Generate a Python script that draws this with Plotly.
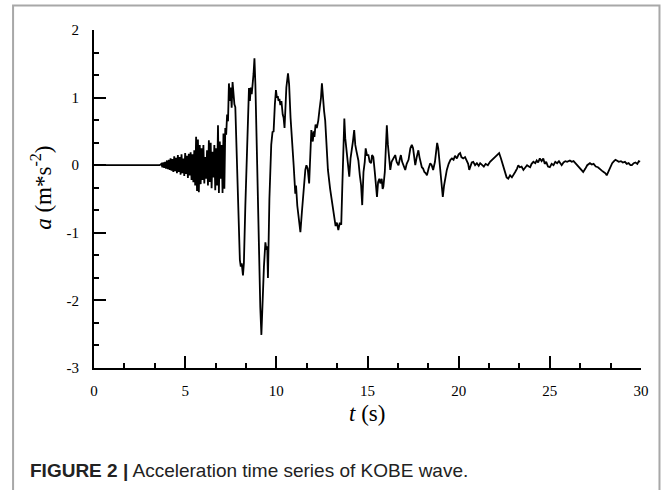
import plotly.graph_objects as go

# ---- data ----
t_s = [0.0, 3.6, 3.70, 3.75, 3.80, 3.85, 3.90, 3.95, 4.00, 4.05, 4.10, 4.15, 4.20, 4.25, 4.30, 4.35,
       4.40, 4.45, 4.50, 4.55, 4.60, 4.65, 4.70, 4.75, 4.80, 4.85, 4.90, 4.95, 5.00, 5.05, 5.10, 5.15,
       5.20, 5.25, 5.30, 5.35, 5.40, 5.45, 5.50, 5.55, 5.60, 5.65, 5.70, 5.75, 5.80, 5.85, 5.90, 5.95,
       6.00, 6.05, 6.10, 6.15, 6.20, 6.25, 6.30, 6.35, 6.40, 6.45, 6.50, 6.55, 6.60, 6.65, 6.70, 6.75,
       6.80, 6.85, 6.90, 6.95, 7.00, 7.05, 7.10, 7.15, 7.20, 7.25, 7.30, 7.35, 7.40, 7.45, 7.50, 7.55,
       7.60, 7.65, 7.70, 7.75, 7.80, 7.90, 8.00, 8.05, 8.10, 8.17, 8.22, 8.30, 8.40, 8.45, 8.50, 8.55,
       8.60, 8.65, 8.70, 8.75, 8.80, 8.85, 8.95, 9.05, 9.12, 9.18, 9.25, 9.32, 9.40, 9.45, 9.50, 9.54,
       9.62, 9.72, 9.79, 9.85, 9.92, 9.98, 10.03, 10.08, 10.12, 10.17, 10.22, 10.28, 10.35, 10.40, 10.45, 10.50,
       10.55, 10.64, 10.70, 10.78, 10.86, 10.95, 11.04, 11.08, 11.15, 11.25, 11.32, 11.40, 11.50, 11.59, 11.65, 11.72,
       11.80, 11.85, 11.92, 12.00, 12.05, 12.09, 12.15, 12.22, 12.30, 12.38, 12.45, 12.50, 12.55, 12.62, 12.68, 12.75,
       12.83, 12.95, 13.05, 13.18, 13.25, 13.32, 13.40, 13.48, 13.56, 13.62, 13.68, 13.73, 13.78, 13.85, 13.92, 14.00,
       14.07, 14.13, 14.20, 14.27, 14.33, 14.40, 14.50, 14.58, 14.65, 14.71, 14.78, 14.85, 14.90, 14.97, 15.05, 15.12,
       15.20, 15.25, 15.32, 15.40, 15.48, 15.52, 15.58, 15.65, 15.70, 15.78, 15.83, 15.87, 15.95, 16.00, 16.06, 16.12,
       16.20, 16.25, 16.32, 16.40, 16.46, 16.52, 16.60, 16.70, 16.78, 16.83, 16.90, 16.98, 17.07, 17.15, 17.25, 17.35,
       17.43, 17.50, 17.56, 17.62, 17.70, 17.79, 17.85, 17.92, 17.98, 18.05, 18.12, 18.20, 18.26, 18.35, 18.44, 18.52,
       18.60, 18.70, 18.76, 18.82, 18.88, 18.95, 18.99, 19.06, 19.13, 19.20, 19.28, 19.35, 19.45, 19.55, 19.63, 19.72,
       19.80, 19.90, 20.00, 20.08, 20.15, 20.25, 20.35, 20.45, 20.52, 20.58, 20.65, 20.72, 20.80, 20.90, 21.00, 21.10,
       21.18, 21.28, 21.38, 21.48, 21.60, 21.72, 21.85, 22.00, 22.10, 22.22, 22.32, 22.44, 22.55, 22.63, 22.72, 22.82,
       22.92, 23.00, 23.10, 23.20, 23.27, 23.35, 23.45, 23.55, 23.65, 23.75, 23.85, 23.92, 24.00, 24.10, 24.20, 24.28,
       24.36, 24.45, 24.55, 24.64, 24.72, 24.80, 24.90, 25.00, 25.10, 25.20, 25.30, 25.40, 25.50, 25.58, 25.65, 25.75,
       25.85, 25.95, 26.10, 26.20, 26.30, 26.40, 26.50, 26.60, 26.70, 26.83, 26.95, 27.05, 27.20, 27.30, 27.40, 27.52,
       27.64, 27.75, 27.85, 27.95, 28.05, 28.12, 28.22, 28.32, 28.42, 28.52, 28.60, 28.67, 28.78, 28.90, 29.00, 29.12,
       29.22, 29.32, 29.42, 29.50, 29.60, 29.70, 29.80, 29.88, 29.95]

accel = [0.0, 0.0, 0.02, -0.03, 0.04, -0.04, 0.05, -0.05, 0.07, -0.06, 0.08, -0.07, 0.10, -0.08, 0.09, -0.10,
         0.13, -0.09, 0.11, -0.12, 0.15, -0.10, 0.12, -0.14, 0.16, -0.12, 0.10, -0.16, 0.18, -0.13, 0.14, -0.19,
         0.17, -0.15, 0.19, -0.22, 0.16, -0.25, 0.22, -0.30, 0.42, -0.38, 0.38, -0.40, 0.30, -0.28, 0.25, -0.22,
         0.30, -0.27, 0.12, -0.20, 0.22, -0.30, 0.37, -0.25, 0.33, -0.34, 0.20, -0.18, 0.30, -0.37, 0.25, -0.30,
         0.59, -0.41, 0.35, -0.20, 0.30, -0.41, 0.47, -0.35, 0.55, 0.45, 0.75, 0.65, 1.21, 0.95, 1.15, 0.85,
         1.23, 0.95, 0.90, 0.86, 0.40, -0.40, -1.40, -1.50, -1.45, -1.63, -1.45, -0.60, 0.40, 0.80, 1.14, 0.95,
         1.15, 1.05, 1.30, 1.35, 1.58, 1.20, 0.00, -1.40, -2.10, -2.51, -1.80, -1.50, -1.14, -1.25, -1.20, -1.67,
         -0.50, 0.30, 0.49, 0.50, 0.90, 1.11, 1.00, 1.02, 0.95, 0.98, 0.89, 0.95, 0.75, 0.70, 0.55, 0.85,
         1.15, 1.36, 1.20, 0.70, 0.27, 0.00, -0.42, -0.30, -0.60, -0.85, -0.99, -0.70, -0.30, -0.07, 0.00, -0.05,
         -0.27, 0.15, 0.52, 0.35, 0.50, 0.42, 0.60, 0.55, 0.66, 0.85, 1.00, 1.21, 0.95, 0.80, 0.66, 0.30,
         -0.07, -0.35, -0.55, -0.81, -0.90, -0.85, -0.96, -0.85, -0.88, -0.30, 0.40, 0.69, 0.40, 0.20, 0.10, -0.17,
         0.10, 0.20, 0.35, 0.52, 0.30, 0.20, 0.07, -0.15, -0.30, -0.59, -0.10, 0.05, 0.25, 0.15, 0.15, 0.05,
         0.03, 0.15, 0.12, -0.10, -0.35, -0.47, -0.25, -0.20, -0.27, -0.20, -0.35, -0.32, -0.10, 0.30, 0.59, 0.30,
         0.00, -0.07, 0.05, 0.10, 0.12, 0.15, 0.05, 0.00, 0.10, 0.15, 0.05, 0.00, -0.07, 0.02, 0.08, 0.25,
         0.30, 0.25, 0.10, 0.00, 0.12, 0.22, 0.12, 0.05, -0.03, -0.05, -0.10, -0.12, -0.15, -0.05, 0.03, 0.00,
         -0.07, 0.05, 0.25, 0.33, 0.25, 0.05, -0.03, -0.25, -0.47, -0.30, -0.15, -0.07, 0.02, 0.08, 0.10, 0.08,
         0.14, 0.10, 0.16, 0.18, 0.12, 0.10, 0.12, 0.05, 0.02, -0.07, 0.00, 0.04, 0.05, 0.00, 0.03, -0.01,
         0.03, 0.00, -0.02, 0.02, 0.00, 0.05, 0.08, 0.12, 0.15, 0.18, 0.10, 0.00, -0.10, -0.18, -0.20, -0.15,
         -0.18, -0.15, -0.10, -0.05, 0.00, -0.03, -0.02, -0.07, -0.04, 0.00, -0.02, -0.03, 0.02, 0.05, 0.03, 0.07,
         0.04, 0.10, 0.06, 0.10, 0.02, 0.05, -0.02, -0.03, 0.02, 0.00, 0.05, 0.03, 0.06, 0.02, 0.00, 0.04,
         0.06, 0.05, 0.07, 0.05, 0.06, 0.03, 0.00, -0.03, -0.07, -0.10, -0.05, 0.00, 0.03, 0.01, 0.02, -0.02,
         -0.03, -0.05, -0.08, -0.10, -0.12, -0.15, -0.08, -0.02, 0.03, 0.06, 0.08, 0.07, 0.05, 0.06, 0.04, 0.05,
         0.02, 0.03, 0.00, 0.00, 0.03, 0.04, 0.02, 0.06, 0.05]

x_ticks = [0, 5, 10, 15, 20, 25, 30]
y_ticks = [-3, -2, -1, 0, 1, 2]
y_tick_labels = ["-3", "-2", "-1", "0", "1", "2"]

# ---- figure ----
W, H = 664, 490
L, R, T, B = 93.5, 23, 29.5, 122
pw, ph = W - L - R, H - T - B

def px_x(p):
    return (p - L) / pw

def px_y(p):
    return (H - B - p) / ph

serif = "Liberation Serif, Times New Roman, serif"

fig = go.Figure()
fig.add_trace(go.Scatter(x=t_s, y=accel, mode="lines",
                         line=dict(color="black", width=1.8), hoverinfo="skip",
                         showlegend=False))

fig.update_layout(
    width=W, height=H, autosize=False,
    margin=dict(l=L, r=R, t=T, b=B, pad=0),
    paper_bgcolor="white", plot_bgcolor="white",
    xaxis=dict(range=[0, 30], tickvals=x_ticks, showgrid=False, zeroline=False,
               showline=True, linecolor="black", linewidth=2,
               ticks="inside", ticklen=12, tickwidth=2, tickcolor="black",
               minor=dict(ticks="inside", ticklen=5, tickwidth=2, tickcolor="black",
                          dtick=5 / 3, tick0=0, showgrid=False),
               tickfont=dict(family=serif, size=15, color="black"),
               ticklabelstandoff=8),
    yaxis=dict(range=[-3, 2], tickvals=y_ticks, ticktext=y_tick_labels,
               showgrid=False, zeroline=False,
               showline=True, linecolor="black", linewidth=2,
               ticks="inside", ticklen=12, tickwidth=2, tickcolor="black",
               minor=dict(ticks="inside", ticklen=5, tickwidth=2, tickcolor="black",
                          dtick=1 / 3, tick0=0, showgrid=False),
               tickfont=dict(family=serif, size=15, color="black"),
               ticklabelstandoff=10),
)

# axis titles
fig.add_annotation(text="<i>t</i> (s)", xref="paper", yref="paper",
                   x=px_x(367), y=px_y(414), xanchor="center", yanchor="middle",
                   showarrow=False, font=dict(family=serif, size=23, color="black"))
fig.add_annotation(text="<i>a</i> (m*s<sup>-2</sup>)", xref="paper", yref="paper",
                   x=px_x(41), y=px_y(188), xanchor="center", yanchor="middle",
                   textangle=-90, showarrow=False,
                   font=dict(family=serif, size=23, color="black"))

# caption
fig.add_annotation(text="<b>FIGURE 2 |</b> Acceleration time series of KOBE wave.",
                   xref="paper", yref="paper", x=px_x(27), y=px_y(471),
                   xanchor="left", yanchor="middle", showarrow=False,
                   font=dict(family="Liberation Sans, Arial, sans-serif", size=19, color="#222222"))

# outer frame (open at the bottom)
xl, xr, yt, yb = px_x(12.5), px_x(659.5), px_y(5), px_y(495)
fig.add_shape(type="path", xref="paper", yref="paper",
              path=f"M {xl} {yb} L {xl} {yt} L {xr} {yt} L {xr} {yb}",
              line=dict(color="#a8a8a8", width=2))

fig.write_html("out.html", config={"displayModeBar": False},
               post_script="document.body.style.margin='0';document.body.style.overflow='hidden';")
